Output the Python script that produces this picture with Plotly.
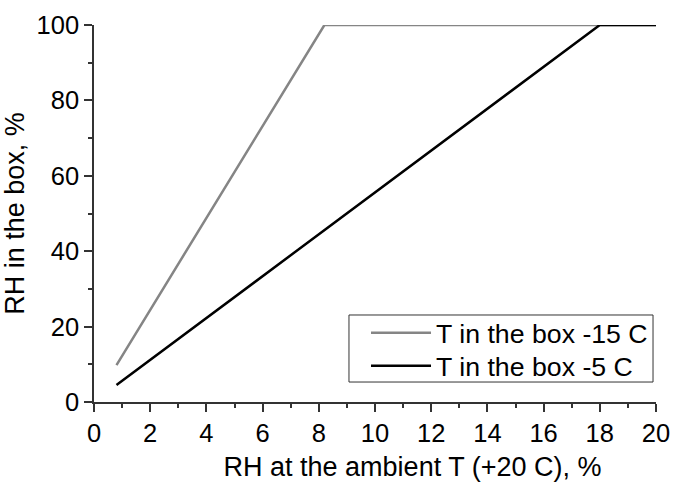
import plotly.graph_objects as go

x_cold = [0.8, 8.2, 20]
y_cold = [9.8, 100, 100]
x_warm = [0.8, 18.0, 20]
y_warm = [4.5, 100, 100]
names = ["T in the box -15 C", "T in the box -5 C"]
x_ticks = list(range(0, 21, 2))
y_ticks = list(range(0, 101, 20))
x_title = "RH at the ambient T (+20 C), %"
y_title = "RH in the box, %"

fig = go.Figure()
fig.add_trace(go.Scatter(x=x_cold, y=y_cold, mode="lines", name=names[0], legend="legend",
                         line=dict(color="#858585", width=2.5)))
fig.add_trace(go.Scatter(x=x_warm, y=y_warm, mode="lines", name=names[1], legend="legend2",
                         line=dict(color="#000000", width=2.5)))

font = dict(family="Liberation Sans, Arial, sans-serif", size=22.5, color="black")
axis_common = dict(showgrid=False, zeroline=False,
                   showline=True, linecolor="#333333", linewidth=1.5,
                   ticks="outside", ticklen=8, tickwidth=1.5, tickcolor="#333333",
                   tickfont=dict(size=25.5))
leg_common = dict(xanchor="left", yanchor="middle", borderwidth=0,
                  bgcolor="rgba(0,0,0,0)", font=dict(size=26.7), itemwidth=60)
fig.update_layout(
    width=673, height=482,
    margin=dict(l=94, r=17, t=25, b=80, autoexpand=False),
    plot_bgcolor="white", paper_bgcolor="white",
    font=font,
    showlegend=True,
    legend=dict(x=0.4840, y=0.183, **leg_common),
    legend2=dict(x=0.4840, y=0.096, **leg_common),
    xaxis=dict(range=[0, 20], tickvals=x_ticks, automargin=False,
               minor=dict(ticks="outside", dtick=1, ticklen=4, tickwidth=1.5, tickcolor="#333333", showgrid=False),
               title=dict(text="&nbsp;" * 10 + x_title, standoff=24),
               **axis_common),
    yaxis=dict(range=[0, 100], tickvals=y_ticks, automargin=True,
               minor=dict(ticks="outside", dtick=10, ticklen=4, tickwidth=1.5, tickcolor="#333333", showgrid=False),
               title=dict(text=y_title, standoff=6),
               **axis_common),
    shapes=[dict(type="rect", xref="paper", yref="paper",
                 x0=0.4537, x1=0.9947, y0=0.053, y1=0.2308,
                 line=dict(color="#333333", width=1), fillcolor="rgba(0,0,0,0)", layer="below")],
)

fig.write_html("out.html", config={"displayModeBar": False},
               post_script="document.body.style.margin='0';document.body.style.overflow='hidden';")
